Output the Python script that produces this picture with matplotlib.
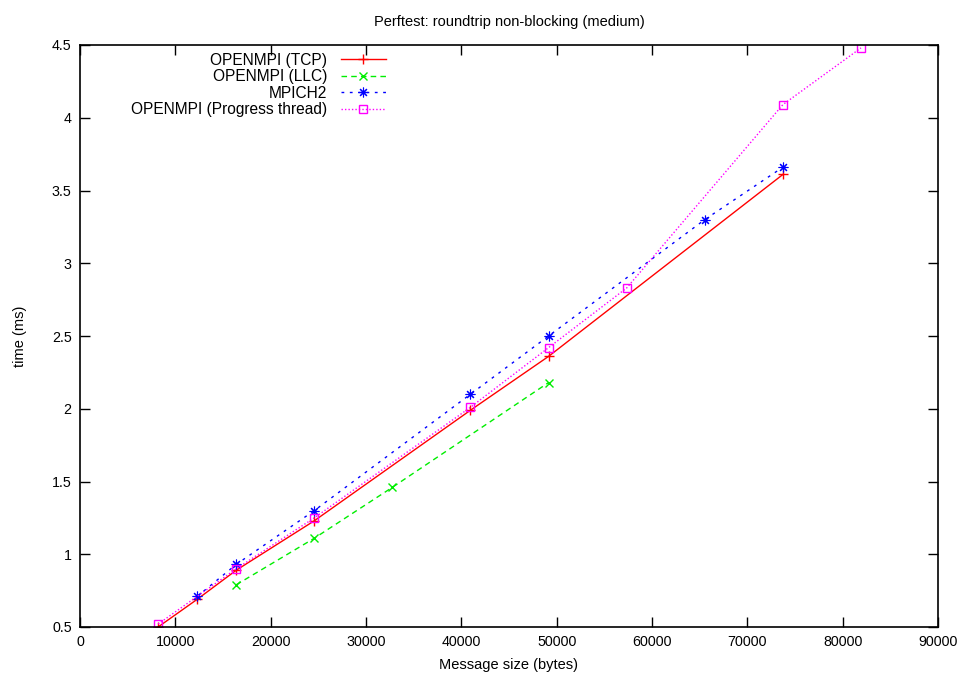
import matplotlib
matplotlib.use("Agg")
import matplotlib.pyplot as plt

plt.rcParams['font.family'] = ['Liberation Sans', 'DejaVu Sans']

tcp_x = [8192, 12288, 16384, 24576, 40960, 49152, 73728]
tcp_y = [0.50, 0.69, 0.89, 1.23, 1.99, 2.36, 3.61]

llc_x = [16384, 24576, 32768, 49152]
llc_y = [0.79, 1.11, 1.46, 2.18]

mpich_x = [12288, 16384, 24576, 40960, 49152, 65536, 73728]
mpich_y = [0.71, 0.93, 1.30, 2.10, 2.50, 3.30, 3.66]

prog_x = [8192, 16384, 24576, 40960, 49152, 57344, 73728, 81920]
prog_y = [0.52, 0.90, 1.25, 2.01, 2.42, 2.83, 4.09, 4.48]

labels = ["OPENMPI (TCP)", "OPENMPI (LLC)", "MPICH2", "OPENMPI (Progress thread)"]
xticks = [0, 10000, 20000, 30000, 40000, 50000, 60000, 70000, 80000, 90000]
yticks = [0.5, 1, 1.5, 2, 2.5, 3, 3.5, 4, 4.5]

fig = plt.figure(figsize=(9.65, 6.75), dpi=100)
ax = fig.add_axes([80/965, 1-627/675, (938-80)/965, (627-45)/675])

ax.plot(tcp_x, tcp_y, color='#ff0000', lw=1.0, ls='-', marker='+', ms=7, mew=1.0, label=labels[0])
ax.plot(llc_x, llc_y, color='#00ee00', lw=1.0, ls=(0, (4, 3)), marker='x', ms=6, mew=1.0, label=labels[1])
ax.plot(mpich_x, mpich_y, color='#0000ff', lw=1.0, ls=(0, (2, 4)), marker=(8, 2, 0), ms=7, mew=0.8, label=labels[2])
ax.plot(prog_x, prog_y, color='#ff00ff', lw=1.0, ls=(0, (1, 1.5)), marker='s', ms=6, mew=1.0,
        mfc='none', label=labels[3])

ax.set_xlim(0, 90000)
ax.set_ylim(0.5, 4.5)
ax.set_xticks(xticks)
ax.set_xticklabels([str(v) for v in xticks])
ax.set_yticks(yticks)
ax.set_yticklabels([('%g' % v) for v in yticks])
ax.tick_params(direction='in', length=7, width=1, top=True, right=True, labelsize=10.3, pad=6)
for s in ax.spines.values():
    s.set_linewidth(1.2)

ax.set_title("Perftest: roundtrip non-blocking (medium)", fontsize=10.5, pad=14)
ax.set_xlabel("Message size (bytes)", fontsize=10.5, labelpad=6)
ax.set_ylabel("time (ms)", fontsize=10.5, labelpad=18)

leg = ax.legend(loc='upper right', bbox_to_anchor=(0.36, 0.992), frameon=False, markerfirst=False,
                fontsize=11.2, labelspacing=0.09, handlelength=2.9, handletextpad=0.85,
                borderaxespad=0, borderpad=0.2)

fig.savefig("out.png", dpi=100)
